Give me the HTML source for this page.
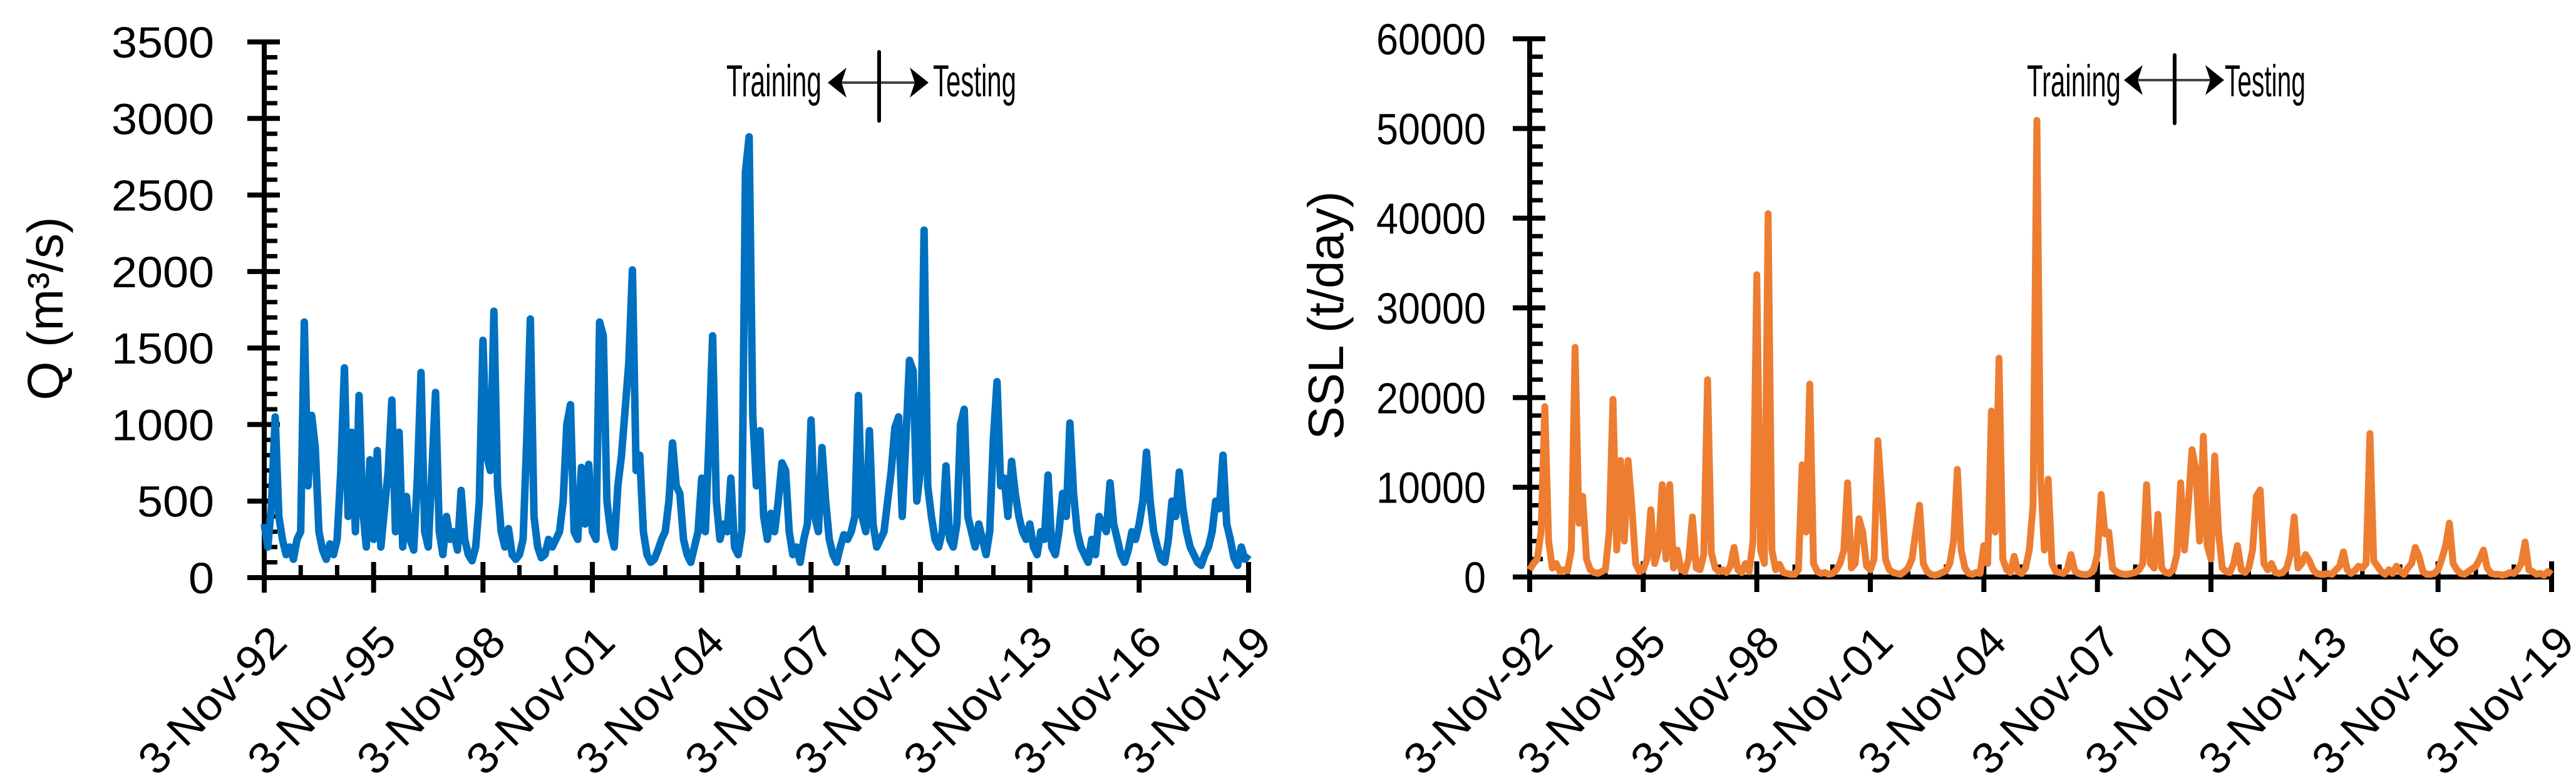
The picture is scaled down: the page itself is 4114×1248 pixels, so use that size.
<!DOCTYPE html>
<html><head><meta charset="utf-8">
<style>
html,body{margin:0;padding:0;background:#fff;}
svg{display:block;}
text{font-family:"Liberation Sans",sans-serif;fill:#000;}
</style></head>
<body>
<svg id="fig" width="4114" height="1248" viewBox="0 0 4114 1248" xmlns="http://www.w3.org/2000/svg">
  <g id="chartQ"></g>
  <g id="chartS"></g>
</svg>
<script>
// ---- shared categories ----
const xTickLabels = ["3-Nov-92","3-Nov-95","3-Nov-98","3-Nov-01","3-Nov-04","3-Nov-07","3-Nov-10","3-Nov-13","3-Nov-16","3-Nov-19"];
const seriesStartYear = 0;      // years since 3-Nov-92
const seriesStepYears = 0.1;    // sampling step of the series below

// ---- Q (m3/s) values, one row per year ----
const qValues = [
 350,200,480,1050,400,250,150,200,120,250,
 300,1670,600,1060,850,300,180,120,220,150,
 250,700,1370,400,950,300,1190,450,200,770,
 250,830,200,450,700,1160,300,950,200,530,
 250,180,650,1340,300,200,700,1210,300,150,
 400,250,300,180,570,250,150,110,200,500,
 1550,800,700,1740,600,300,200,320,150,120,
 150,250,900,1690,400,200,130,150,250,200,
 250,300,500,1000,1130,300,250,720,350,740,
 300,250,1670,1580,500,300,200,600,800,1100,
 1400,2010,700,800,300,150,100,120,180,250,
 300,500,880,600,550,250,150,100,200,300,
 650,300,900,1580,500,250,350,300,650,200,
 150,300,2650,2880,1060,600,960,400,250,420,
 300,500,750,700,300,150,200,100,250,350,
 1030,400,300,850,500,250,150,100,200,280,
 250,300,400,1190,400,300,960,350,200,250,
 300,500,700,980,1050,400,900,1420,1350,500,
 700,2270,600,400,250,200,300,730,250,200,
 350,1000,1100,400,300,200,350,250,150,300,
 900,1280,600,650,400,760,550,400,300,250,
 350,200,150,300,250,670,200,150,300,550,
 400,1010,550,300,200,150,100,250,150,400,
 350,300,620,350,250,150,100,180,300,250,
 350,500,820,500,300,200,120,100,250,500,
 400,690,450,300,200,150,100,80,150,200,
 300,500,450,800,350,250,130,80,200,120,
 150
];
const qTickValues = [0,500,1000,1500,2000,2500,3000,3500];

// ---- SSL (t/day) values, one row per year ----
const sslValues = [
 800,1500,2000,5000,19000,4000,1000,1500,600,800,
 700,3000,25600,6000,9000,2000,800,500,400,600,
 800,5000,19800,3000,13000,4000,13000,7800,1500,600,
 800,2000,7500,1500,3000,10300,2000,10300,1000,3000,
 800,600,2000,6700,1000,800,2500,22000,2700,1000,
 600,800,500,1200,3300,800,500,1500,600,4000,
 33700,3000,1500,40500,3000,800,1400,500,400,300,
 300,800,12500,5000,21500,1500,600,400,500,300,
 400,800,1500,3000,10500,1000,1500,6500,5000,1200,
 800,2000,15200,9000,2000,800,500,400,300,600,
 1000,2000,5000,8000,1500,600,300,200,300,500,
 700,1500,4000,12000,3000,1000,400,300,500,400,
 3500,1500,18500,5000,24400,2000,800,500,2300,600,
 400,1000,3000,8000,50900,10900,3000,10900,1500,600,
 500,400,800,2500,700,400,300,250,400,800,
 2500,9200,4800,5000,1000,600,400,300,300,400,
 500,800,1500,10300,1500,1000,7000,1000,500,400,
 800,2500,10500,3000,8000,14200,12000,4000,15700,3500,
 2000,13500,5000,1000,600,500,1500,3500,800,500,
 1000,3000,9000,9700,1500,800,1500,500,400,500,
 1000,2500,6700,1000,1500,2500,1800,800,400,300,
 300,400,300,800,1200,2800,800,400,700,1200,
 1000,1500,16000,1800,1200,600,300,800,400,1200,
 600,300,1000,1500,3300,2300,600,300,300,400,
 800,2000,3500,6000,1500,800,400,300,600,900,
 1200,2000,3000,1000,400,300,300,200,300,500,
 400,800,1500,3900,800,600,300,400,200,600,
 300
];
const sslTickValues = [0,10000,20000,30000,40000,50000,60000];

const NS = "http://www.w3.org/2000/svg";
function mk(parent, tag, attrs, txt){
  const el = document.createElementNS(NS, tag);
  for (const k in attrs) el.setAttribute(k, attrs[k]);
  if (txt !== undefined) el.textContent = txt;
  parent.appendChild(el);
  return el;
}

function drawChart(cfg){
  const g = document.getElementById(cfg.id);
  const x = yr => cfg.x0 + (yr / 27) * (cfg.x1 - cfg.x0);
  const y = v => cfg.y0 - (v / cfg.yMax) * (cfg.y0 - cfg.y1);

  let d = "";
  cfg.values.forEach((v, i) => {
    const t = seriesStartYear + i * seriesStepYears;
    d += (i ? "L" : "M") + x(t).toFixed(1) + " " + y(v).toFixed(1);
  });

  const axes = mk(g, "g", {});
  
  
  const yAxis = mk(axes, "line", {x1:cfg.x0, y1:cfg.y1, x2:cfg.x0, y2:cfg.y0+4, stroke:"#000","stroke-width":8});
  
  
  const xAxis = mk(axes, "line", {x1:cfg.x0-27, y1:cfg.y0, x2:cfg.x1+4, y2:cfg.y0, stroke:"#000","stroke-width":8});
  
  

  for (let v = 0; v <= cfg.yMax + 1e-6; v += cfg.yMinor){
    const isMajor = cfg.yTicks.indexOf(v) >= 0;
    const yy = y(v);
    if (isMajor) mk(axes, "line", {x1:cfg.x0-27, y1:yy, x2:cfg.x0+25, y2:yy, stroke:"#000","stroke-width":8});
    else mk(axes, "line", {x1:cfg.x0, y1:yy, x2:cfg.x0+21, y2:yy, stroke:"#000","stroke-width":7});
  }
  cfg.yTicks.forEach(v => {
    const s = String(v);
    const t = mk(axes, "text", {x:cfg.labelRight, y:y(v)+25, "text-anchor":"end","font-size":70, textLength:s.length*cfg.digitW, lengthAdjust:"spacingAndGlyphs"}, s);
    
    
  });

  for (let yr = 0; yr <= 27; yr++){
    const xx = x(yr);
    if (yr % 3 === 0) mk(axes, "line", {x1:xx, y1:cfg.y0-25, x2:xx, y2:cfg.y0+24, stroke:"#000","stroke-width":8});
    else mk(axes, "line", {x1:xx, y1:cfg.y0-20, x2:xx, y2:cfg.y0, stroke:"#000","stroke-width":7});
  }
  xTickLabels.forEach((lab, i) => {
    const xx = x(i*3) + 40, yy = 1030;
    const t = mk(axes, "text", {x:xx, y:yy, "text-anchor":"end","font-size":70, textLength:300, lengthAdjust:"spacingAndGlyphs", transform:`rotate(-45 ${xx} ${yy})`}, lab);
    
    
  });

  const p = mk(g, "path", {d:d, fill:"none", stroke:cfg.color, "stroke-width":cfg.lw, "stroke-linejoin":"round", "stroke-linecap":"butt"});
  
  

  const tt = mk(g, "text", {x:cfg.titleX, y:cfg.titleY, "text-anchor":"middle","font-size":80, transform:`rotate(-90 ${cfg.titleX} ${cfg.titleY})`}, cfg.title);
  
  

  const a = cfg.ann;
  const ag = mk(g, "g", {});
  
  
  const tr = mk(ag, "text", {x:a.trX, y:154, "font-size":71, textLength:a.trW, lengthAdjust:"spacingAndGlyphs"}, "Training");
  
  
  const te = mk(ag, "text", {x:a.teX, y:154, "font-size":71, textLength:a.teW, lengthAdjust:"spacingAndGlyphs"}, "Testing");
  
  
  const ay = a.ay;
  mk(ag, "line", {x1:a.l+20, y1:ay, x2:a.r-20, y2:ay, stroke:"#444","stroke-width":4});
  mk(ag, "path", {d:`M${a.l} ${ay} L${a.l+30} ${ay-24} L${a.l+22} ${ay} L${a.l+30} ${ay+24} Z`, fill:"#000"});
  mk(ag, "path", {d:`M${a.r} ${ay} L${a.r-30} ${ay-24} L${a.r-22} ${ay} L${a.r-30} ${ay+24} Z`, fill:"#000"});
  mk(ag, "line", {x1:a.vx, y1:a.vy1, x2:a.vx, y2:a.vy2, stroke:"#000","stroke-width":6,"stroke-linecap":"round"});
}

drawChart({id:"chartQ", prefix:"q", values:qValues, yMax:3500, yMinor:100, yTicks:qTickValues,
  x0:422, x1:1994, y0:923, y1:67, color:"#0070C0", labelRight:342, digitW:41, lw:12,
  title:"Q (m³/s)", titleX:100, titleY:493,
  ann:{trX:1160, trW:152, teX:1490, teW:133, l:1322, r:1483, ay:132, vx:1404, vy1:83, vy2:193}});

drawChart({id:"chartS", prefix:"ssl", values:sslValues, yMax:60000, yMinor:2000, yTicks:sslTickValues,
  x0:2443, x1:4075, y0:922, y1:62, color:"#ED7D31", labelRight:2373, digitW:35, lw:11,
  title:"SSL (t/day)", titleX:2145, titleY:504,
  ann:{trX:3237, trW:150, teX:3553, teW:129, l:3392, r:3552, ay:128, vx:3473, vy1:88, vy2:197}});
</script>
</body></html>
